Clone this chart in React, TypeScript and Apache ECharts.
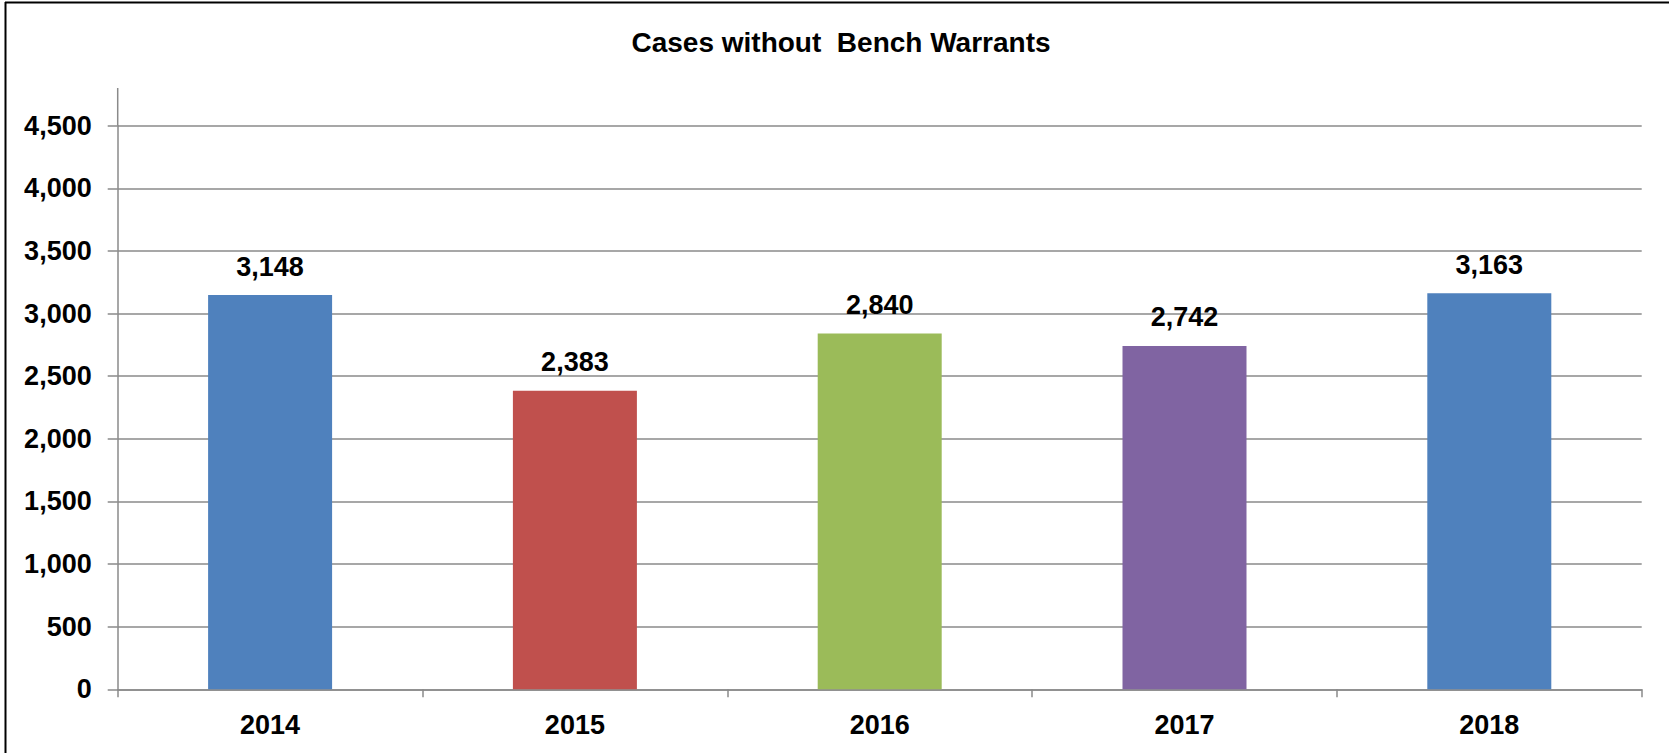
import React, { useEffect, useRef } from "react";
import * as echarts from "echarts";

const categories = ["2014", "2015", "2016", "2017", "2018"];
const values = [3148, 2383, 2840, 2742, 3163];
const barColors = ["#4F81BD", "#C0504D", "#9BBB59", "#8064A2", "#4F81BD"];
const titleText = "Cases without  Bench Warrants";

const FONT = "'Liberation Sans', Arial, sans-serif";
const GRAY = "#8a8a8a";

export default function App() {
  const ref = useRef<HTMLDivElement>(null);
  useEffect(() => {
    if (!ref.current) return;
    const chart = echarts.init(ref.current, undefined, { renderer: "svg" });
    const fmt = (v: number) => v.toLocaleString("en-US");
    chart.setOption({
      animation: false,
      backgroundColor: "#ffffff",
      title: {
        text: titleText,
        left: 836,
        top: 23,
        textAlign: "center",
        textStyle: { fontFamily: FONT, fontWeight: "bold", fontSize: 28, color: "#000" },
      },
      grid: { left: 117.7, right: 1669 - 1641.7, top: 125.7, bottom: 753 - 689.3, containLabel: false },
      xAxis: {
        type: "category",
        data: categories,
        axisLine: { show: true, lineStyle: { color: GRAY, width: 1.5 } },
        axisTick: { show: true, length: 8, lineStyle: { color: GRAY, width: 1.5 } },
        axisLabel: { margin: 22, fontFamily: FONT, fontWeight: "bold", fontSize: 27, color: "#000" },
      },
      yAxis: {
        type: "value",
        min: 0,
        max: 4500,
        interval: 500,
        axisLine: { show: true, lineStyle: { color: GRAY, width: 1.5 } },
        axisTick: { show: true, length: 10, lineStyle: { color: GRAY, width: 1.5 } },
        splitLine: { show: true, lineStyle: { color: GRAY, width: 1.5 } },
        axisLabel: {
          margin: 26,
          fontFamily: FONT,
          fontWeight: "bold",
          fontSize: 27,
          color: "#000",
          formatter: (v: number) => fmt(v),
        },
      },
      series: [
        {
          type: "bar",
          barWidth: 124,
          data: values.map((v, i) => ({ value: v, itemStyle: { color: barColors[i] } })),
          label: {
            show: true,
            position: "top",
            distance: 15,
            fontFamily: FONT,
            fontWeight: "bold",
            fontSize: 27,
            color: "#000",
            formatter: (p: any) => fmt(p.value),
          },
        },
      ],
      graphic: [
        { type: "line", shape: { x1: 5.5, y1: 2, x2: 5.5, y2: 753 }, style: { stroke: "#000", lineWidth: 2 } },
        { type: "line", shape: { x1: 5, y1: 2.5, x2: 1669, y2: 2.5 }, style: { stroke: "#000", lineWidth: 2 } },
        { type: "line", shape: { x1: 117.7, y1: 88, x2: 117.7, y2: 125.7 }, style: { stroke: GRAY, lineWidth: 1.5 } },
      ],
    });
    return () => chart.dispose();
  }, []);
  return (
    <div
      ref={ref}
      style={{ position: "fixed", left: 0, top: 0, width: 1669, height: 753, background: "#fff" }}
    />
  );
}
